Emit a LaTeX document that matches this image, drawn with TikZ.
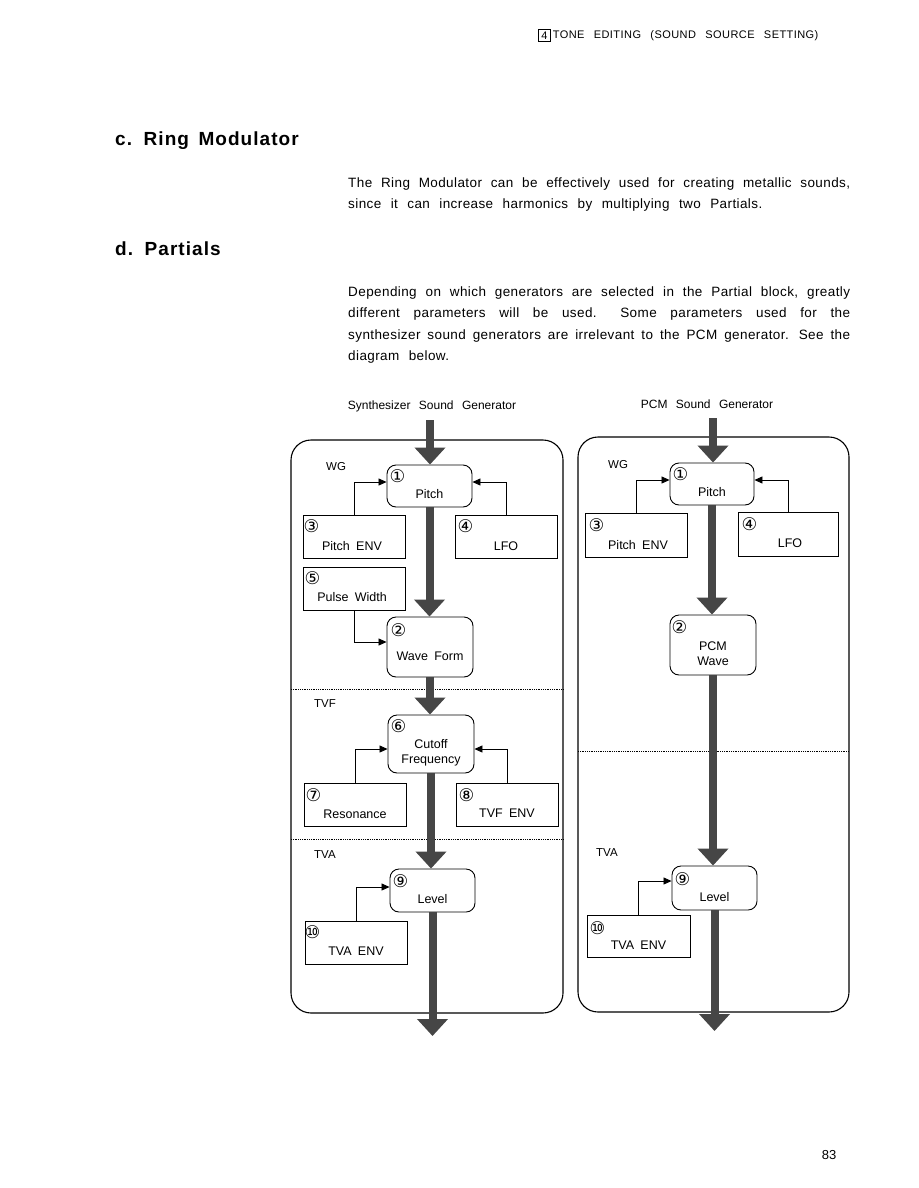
\documentclass[tikz,border=0pt]{standalone}
\usepackage{fontspec}
\setmainfont{Liberation Sans}
\newfontfamily\symf{DejaVu Sans}
\newfontfamily\lsbody[LetterSpace=3]{Liberation Sans}
\newfontfamily\lstitle[LetterSpace=5.5]{Liberation Sans}
\newfontfamily\lshead[LetterSpace=4]{Liberation Sans}
\usetikzlibrary{arrows.meta}
\definecolor{fatgray}{RGB}{70,70,70}
\newcommand\wsHead{\spaceskip 0.85em\relax}
\newcommand\wsLab{\spaceskip 0.5em\relax}
\newcommand\wsCap{\spaceskip 0.7em\relax}
\newcommand\wsBody{\spaceskip 0.7em plus 0.8em minus 0.4em\relax\tolerance=9999\emergencystretch=20pt}
\newcommand\wsTitle{\spaceskip 0.5em\relax}
\begin{document}
\begin{tikzpicture}[x=1pt,y=-1pt,
  box/.style={draw=black, line width=0.9pt, inner sep=0pt, minimum width=102pt, minimum height=43pt},
  rbox/.style={draw=black, line width=0.9pt, rounded corners=9pt, inner sep=0pt, minimum width=85pt, minimum height=42pt},
  num/.style={inner sep=0pt, font=\symf\fontsize{17.5}{18}\selectfont},
  lab/.style={inner sep=0pt, align=center, font=\fontsize{12.5}{15}\selectfont\wsLab},
  grp/.style={inner sep=0pt, anchor=west, font=\fontsize{11.5}{14}\selectfont},
  captxt/.style={inner sep=0pt, font=\fontsize{12}{14}\selectfont\wsCap},
  fatarrow/.style={draw=fatgray, line width=8pt, -{Triangle[width=30pt,length=17pt]}},
  link/.style={draw=black, line width=0.8pt, -{Triangle[width=7pt,length=8pt]}},
  frame/.style={draw=black, line width=1.1pt, rounded corners=20pt},
  sep/.style={draw=black, line width=0.8pt, densely dotted},
  body/.style={inner sep=0pt, anchor=base west, text width=502pt, align=justify,
    font=\lsbody\fontsize{13.5}{21.5}\selectfont\wsBody},
  headtxt/.style={inner sep=0pt, anchor=base west, font=\lstitle\bfseries\fontsize{19}{22}\selectfont\wsTitle}
]
\useasboundingbox (0,0) rectangle (918,1188);
\fill[white] (0,0) rectangle (918,1188);

% page header
\node[draw, line width=0.7pt, inner sep=0pt, minimum size=12.5pt, font=\fontsize{11}{11}\selectfont] (hbox) at (544.5,35.5) {4};
\node[inner sep=0pt, anchor=west, font=\lshead\fontsize{11}{12}\selectfont\wsHead] (htitle) at ([xshift=1.5pt]hbox.east) {TONE EDITING (SOUND SOURCE SETTING)};

% headings and text
\node[headtxt] (hc) at (115,146) {c. Ring Modulator};
\node[headtxt] (hd) at (115,255) {d. Partials};
\node[body] (p1) at (348,187) {The Ring Modulator can be effectively used for creating metallic sounds,\linebreak since it can increase harmonics by multiplying two Partials.};
\node[body] (p2) at (348,296) {Depending on which generators are selected in the Partial block, greatly\linebreak different parameters will be used. Some parameters used for the\linebreak synthesizer sound generators are irrelevant to the PCM generator. See the\linebreak diagram below.};

% captions
\node[captxt] (capl) at (432,406) {Synthesizer Sound Generator};
\node[captxt] (capr) at (707,404) {PCM Sound Generator};

% frames
\draw[frame] (291,440) rectangle (563,1013);
\draw[frame] (578,437) rectangle (849,1012);
\draw[sep] (291,689) -- (563,689);
\draw[sep] (291,839) -- (563,839);
\draw[sep] (578,751) -- (849,751);

% group labels
\node[grp] (lwg) at (326,467) {WG};
\node[grp] (ltvfL) at (314,704) {TVF};
\node[grp] (ltvaL) at (314,855) {TVA};
\node[grp] (rwg) at (608,465) {WG};
\node[grp] (rtvaL) at (596,853) {TVA};

% ---------- left column boxes ----------
\node[rbox] (lpitch) at (429.5,486) {};
\node[box] (lpenv) at (354,536.5) {};
\node[box] (llfo) at (506,536.5) {};
\node[box] (lpw) at (354,588.5) {};
\node[rbox, minimum width=86pt, minimum height=60pt] (lwave) at (430,647) {};
\node[rbox, minimum width=86pt, minimum height=58pt] (lcut) at (431,744) {};
\node[box] (lres) at (355,804.5) {};
\node[box] (ltvf) at (507,804.5) {};
\node[rbox, minimum height=43pt] (llev) at (432.5,890.5) {};
\node[box] (ltva) at (356,942.5) {};

% numbers left
\node[num] (n1l) at ([xshift=11pt,yshift=-12pt]lpitch.north west) {①};
\node[num] (n3l) at ([xshift=9pt,yshift=-12pt]lpenv.north west) {③};
\node[num] (n4l) at ([xshift=11pt,yshift=-12pt]llfo.north west) {④};
\node[num] (n5l) at ([xshift=10pt,yshift=-12pt]lpw.north west) {⑤};
\node[num] (n2l) at ([xshift=12pt,yshift=-14pt]lwave.north west) {②};
\node[num] (n6l) at ([xshift=11pt,yshift=-12pt]lcut.north west) {⑥};
\node[num] (n7l) at ([xshift=10pt,yshift=-13pt]lres.north west) {⑦};
\node[num] (n8l) at ([xshift=11pt,yshift=-13pt]ltvf.north west) {⑧};
\node[num] (n9l) at ([xshift=11pt,yshift=-13pt]llev.north west) {⑨};
\node[num] (n10l) at ([xshift=8pt,yshift=-12pt]ltva.north west) {⑩};

% labels left
\node[lab] (tpitchl) at ([yshift=-8pt]lpitch.center) {Pitch};
\node[lab] (tpenvl) at ([xshift=-2pt,yshift=-9.5pt]lpenv.center) {Pitch ENV};
\node[lab] (tlfol) at ([yshift=-9.5pt]llfo.center) {LFO};
\node[lab] (tpwl) at ([xshift=-2pt,yshift=-8.5pt]lpw.center) {Pulse Width};
\node[lab] (twavel) at ([yshift=-9pt]lwave.center) {Wave Form};
\node[lab] (tcutl) at ([yshift=-9pt]lcut.center) {Cutoff\\Frequency};
\node[lab] (tresl) at ([yshift=-9.5pt]lres.center) {Resonance};
\node[lab] (ttvfl) at ([yshift=-9pt]ltvf.center) {TVF ENV};
\node[lab] (tlevl) at ([yshift=-8.5pt]llev.center) {Level};
\node[lab] (ttval) at ([yshift=-8.5pt]ltva.center) {TVA ENV};

% ---------- right column boxes ----------
\node[rbox, minimum width=84pt] (rpitch) at (712,484) {};
\node[box, minimum height=44pt] (rpenv) at (636,535) {};
\node[box, minimum width=100pt, minimum height=44pt] (rlfo) at (788,534) {};
\node[rbox, minimum width=86pt, minimum height=60pt] (rwave) at (713,645) {};
\node[rbox, minimum height=44pt] (rlev) at (714.5,888) {};
\node[box, minimum width=103pt, minimum height=42pt] (rtva) at (638.5,936) {};

\node[num] (n1r) at ([xshift=11pt,yshift=-12pt]rpitch.north west) {①};
\node[num] (n3r) at ([xshift=12pt,yshift=-13pt]rpenv.north west) {③};
\node[num] (n4r) at ([xshift=12pt,yshift=-13pt]rlfo.north west) {④};
\node[num] (n2r) at ([xshift=10pt,yshift=-13pt]rwave.north west) {②};
\node[num] (n9r) at ([xshift=11pt,yshift=-14pt]rlev.north west) {⑨};
\node[num] (n10r) at ([xshift=11pt,yshift=-14pt]rtva.north west) {⑩};

\node[lab] (tpitchr) at ([yshift=-8pt]rpitch.center) {Pitch};
\node[lab] (tpenvr) at ([xshift=2pt,yshift=-10pt]rpenv.center) {Pitch ENV};
\node[lab] (tlfor) at ([xshift=2pt,yshift=-9pt]rlfo.center) {LFO};
\node[lab] (twaver) at ([yshift=-8.5pt]rwave.center) {PCM\\Wave};
\node[lab] (tlevr) at ([yshift=-9pt]rlev.center) {Level};
\node[lab] (ttvar) at ([yshift=-9pt]rtva.center) {TVA ENV};

% ---------- thin links ----------
\draw[link] (lpenv.north) |- ([yshift=4pt]lpitch.west);
\draw[link] (llfo.north) |- ([yshift=4pt]lpitch.east);
\draw[link] (lpw.south) |- ([yshift=5pt]lwave.west);
\draw[link] (lres.north) |- ([yshift=-5pt]lcut.west);
\draw[link] (ltvf.north) |- ([yshift=-5pt]lcut.east);
\draw[link] (ltva.north) |- ([yshift=3.5pt]llev.west);
\draw[link] (rpenv.north) |- ([yshift=4pt]rpitch.west);
\draw[link] (rlfo.north) |- ([yshift=4pt]rpitch.east);
\draw[link] (rtva.north) |- ([yshift=7pt]rlev.west);

% ---------- fat signal arrows ----------
\coordinate (lin) at (430,420);
\coordinate (lout) at (432,1036);
\coordinate (rin) at (713,418);
\coordinate (rout) at (714,1031);
\draw[fatarrow] (lin) -- (lin |- lpitch.north);
\draw[fatarrow] (lpitch.south) -- (lpitch.south |- lwave.north);
\draw[fatarrow] (lwave.south) -- (lwave.south |- lcut.north);
\draw[fatarrow] (lcut.south) -- (lcut.south |- llev.north);
\draw[fatarrow] (llev.south) -- (llev.south |- lout);
\draw[fatarrow] (rin) -- (rin |- rpitch.north);
\draw[fatarrow] (rpitch.south) -- (rpitch.south |- rwave.north);
\draw[fatarrow] (rwave.south) -- (rwave.south |- rlev.north);
\draw[fatarrow] (rlev.south) -- (rlev.south |- rout);

% page number
\node[inner sep=0pt, font=\fontsize{13}{14}\selectfont] (pno) at (829,1155) {83};
\end{tikzpicture}
\end{document}
